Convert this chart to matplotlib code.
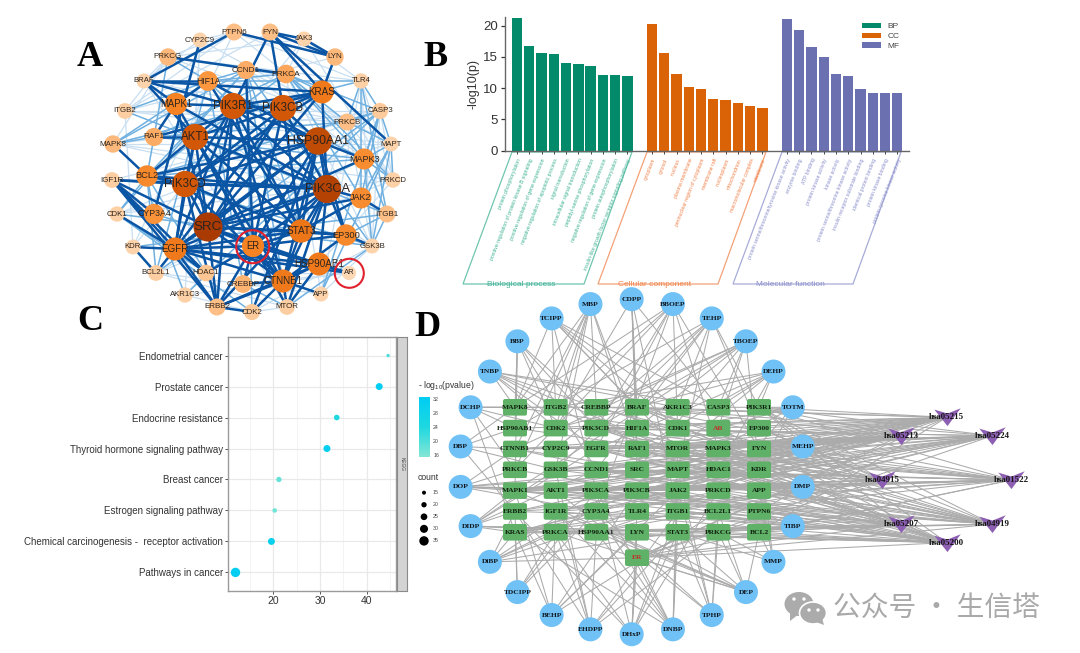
"""Four panel figure: PPI network, GO bars, KEGG dots, compound-target-pathway network."""
import numpy as np
import matplotlib
matplotlib.use("Agg")
import matplotlib.pyplot as plt
from matplotlib.cm import ScalarMappable
from matplotlib.collections import LineCollection
from matplotlib.colors import LinearSegmentedColormap, Normalize
from matplotlib.patches import Circle, Ellipse, FancyBboxPatch, Polygon

plt.rcParams["font.family"] = ["Liberation Sans", "DejaVu Sans"]
plt.rcParams["mathtext.default"] = "regular"

W, H = 1080, 653
SERIF = "Liberation Serif"

# ── Panel A: PPI network ─────────────────────────────────────────────────────
A_NAMES = ["PTPN6", "FYN", "JAK3", "LYN", "CYP2C9", "PRKCG", "CCND1", "PRKCA", "TLR4", "BRAF",
           "HIF1A", "KRAS", "MAPK1", "PIK3R1", "PIK3CB", "ITGB2", "CASP3", "PRKCB", "RAF1", "AKT1",
           "HSP90AA1", "MAPK8", "MAPT", "MAPK3", "IGF1R", "BCL2", "PIK3CD", "PIK3CA", "PRKCD", "JAK2",
           "CDK1", "CYP3A4", "ITGB1", "SRC", "STAT3", "EP300", "ER", "GSK3B", "KDR", "EGFR",
           "HSP90AB1", "AR", "BCL2L1", "HDAC1", "CREBBP", "CTNNB1", "APP", "AKR1C3", "ERBB2", "CDK2", "MTOR"]
A_X = [234, 270, 304, 335, 200, 168, 246, 286, 361, 144,
       208, 322, 176, 233, 283, 125, 380, 347, 154, 195,
       318, 113, 391, 364, 112, 147, 185, 327, 393, 361,
       117, 154, 387, 208, 301, 346, 253, 372, 133, 175,
       319, 349, 156, 206, 243, 283, 321, 185, 217, 252, 287]
A_Y = [32, 32, 39, 57, 40, 57, 70, 74, 81, 81,
       81, 92, 104, 106, 108, 111, 111, 122, 137, 137,
       141, 144, 144, 159, 180, 176, 184, 189, 180, 198,
       214, 214, 214, 227, 231, 235, 246, 246, 247, 249,
       264, 273, 273, 273, 284, 281, 294, 295, 307, 312, 307]
A_DEGREE = [10, 10, 5, 11, 5, 11, 13, 14, 6, 5,
            17, 25, 23, 33, 33, 7, 8, 10, 13, 33,
            36, 11, 5, 20, 7, 21, 33, 38, 6, 20,
            6, 18, 10, 40, 26, 21, 23, 5, 5, 25,
            25, 3, 7, 9, 12, 25, 5, 6, 10, 8, 7]

A_STRONG = {
    "SRC": "PIK3CA HSP90AA1 PIK3R1 PIK3CB AKT1 PIK3CD STAT3 CTNNB1 EGFR KRAS ER HSP90AB1 EP300 MAPK1 MAPK3 JAK2 ERBB2 IGF1R",
    "PIK3CA": "HSP90AA1 PIK3R1 PIK3CB AKT1 PIK3CD STAT3 CTNNB1 EGFR KRAS ER HSP90AB1 EP300 MAPK1 BCL2 JAK2 IGF1R ERBB2 MTOR",
    "HSP90AA1": "PIK3R1 PIK3CB AKT1 PIK3CD STAT3 CTNNB1 EGFR ER EP300 MAPK3 CDK2 BCL2 HIF1A",
    "PIK3R1": "PIK3CB AKT1 PIK3CD EGFR STAT3 KRAS CTNNB1 BRAF MAPK1 FYN ERBB2",
    "PIK3CB": "AKT1 PIK3CD EGFR KRAS ER STAT3 FYN",
    "AKT1": "PIK3CD EGFR MAPK1 ER BCL2 CTNNB1 STAT3 BRAF RAF1 MTOR",
    "PIK3CD": "EGFR BCL2 STAT3 ERBB2 KRAS CTNNB1 IGF1R",
    "EGFR": "ER ERBB2 CTNNB1 STAT3 HSP90AB1 IGF1R KDR HDAC1 CDK1 BCL2L1 AR",
    "STAT3": "ER EP300 CTNNB1 JAK2 HIF1A",
    "CTNNB1": "ER EP300 HSP90AB1 ERBB2 CDK2 CREBBP MTOR APP",
    "ER": "EP300 HSP90AB1 CREBBP HDAC1 ERBB2 CCND1 AR",
    "KRAS": "FYN LYN BRAF RAF1",
    "HSP90AB1": "AR ERBB2 MTOR",
    "MAPK1": "BRAF HIF1A RAF1",
    "FYN": "LYN JAK3 MAPT",
    "LYN": "JAK3 PTPN6",
    "IGF1R": "ERBB2 HDAC1 CYP3A4",
    "EP300": "GSK3B",
    "JAK2": "ITGB1",
    "BRAF": "HIF1A PTPN6",
    "ERBB2": "CDK2",
    "PRKCG": "PRKCA",
    "CYP2C9": "CYP3A4",
    "MAPK8": "BCL2",
    "KDR": "BCL2L1",
}
A_MID = {
    "PRKCA": "PRKCB PRKCD HIF1A CCND1 MAPK3 CASP3 KRAS JAK2 BCL2 RAF1",
    "MAPK3": "CASP3 MAPT PRKCB PRKCD GSK3B ITGB1 RAF1 BCL2 HIF1A",
    "CCND1": "HIF1A CDK1 CDK2 CTNNB1 GSK3B MAPK8 BCL2 STAT3",
    "HIF1A": "PIK3R1 PRKCG CREBBP TLR4 MAPK8 BCL2L1 ITGB2",
    "BCL2": "RAF1 CASP3 BCL2L1 CDK1 CYP3A4 HDAC1 GSK3B",
    "CASP3": "MAPT JAK2 PRKCB APP BCL2L1 TLR4 AKR1C3",
    "MAPT": "GSK3B PRKCB JAK2 PRKCD APP",
    "ITGB1": "TLR4 GSK3B EP300 KDR ITGB2",
    "RAF1": "MAPK8 PRKCB PRKCG",
    "TLR4": "MAPK8 PRKCB JAK2",
    "CYP3A4": "CYP2C9 AKR1C3 AR",
    "CDK1": "CDK2 HDAC1 GSK3B",
    "MTOR": "GSK3B CREBBP",
}
A_LIGHT = {
    "PRKCG": "PRKCB BRAF JAK3 TLR4 PTPN6 MAPK8 ITGB2",
    "PRKCD": "TLR4 JAK3 CASP3 HSP90AB1 CCND1 PRKCB",
    "PRKCB": "ITGB2 PTPN6 BRAF IGF1R CCND1 GSK3B",
    "CYP2C9": "PTPN6 BRAF AKR1C3 MAPT AKT1",
    "GSK3B": "TLR4 APP PRKCA CASP3 BRAF",
    "ITGB2": "FYN LYN KDR PTPN6 MAPT CASP3",
    "MAPK8": "MAPT PRKCD CASP3 JAK2",
    "AKR1C3": "AR HDAC1 CDK2",
    "CDK2": "MTOR GSK3B",
    "APP": "BCL2L1 TLR4 PRKCA",
    "JAK3": "TLR4 PRKCA KDR",
    "MTOR": "BRAF BCL2L1 PRKCB",
    "PTPN6": "KDR TLR4",
    "CDK1": "MAPT CASP3 PRKCD",
    "BCL2L1": "MAPT PRKCD",
    "AR": "HDAC1 CREBBP",
}

# ── Panel B: GO enrichment ───────────────────────────────────────────────────
BP_TERMS = ["protein phosphorylation", "positive regulation of protein kinase B signaling",
            "positive regulation of gene expression", "negative regulation of apoptotic process",
            "signal transduction", "intracellular signal transduction",
            "peptidyl-serine phosphorylation", "negative regulation of gene expression",
            "protein autophosphorylation", "insulin-like growth factor receptor signaling pathway"]
CC_TERMS = ["cytoplasm", "cytosol", "nucleus", "plasma membrane",
            "perinuclear region of cytoplasm", "membrane raft", "nucleoplasm",
            "mitochondrion", "macromolecular complex", "membrane"]
MF_TERMS = ["protein serine/threonine/tyrosine kinase activity", "enzyme binding", "ATP binding",
            "protein kinase activity", "kinase activity", "protein serine/threonine kinase activity",
            "insulin receptor substrate binding", "identical protein binding",
            "protein kinase binding", "protein tyrosine kinase activity"]
BP_VALUES = [21.3, 16.8, 15.7, 15.4, 14.0, 13.9, 13.6, 12.1, 12.1, 12.0]
CC_VALUES = [20.2, 15.6, 12.2, 10.2, 9.9, 8.2, 8.1, 7.7, 7.2, 6.9]
MF_VALUES = [21.1, 19.3, 16.6, 15.0, 12.3, 12.0, 9.9, 9.3, 9.3, 9.3]
GO_GROUPS = ["Biological process", "Cellular component", "Molecular function"]
GO_KEYS = ["BP", "CC", "MF"]

# ── Panel C: KEGG dots ───────────────────────────────────────────────────────
KEGG_TERMS = ["Pathways in cancer", "Chemical carcinogenesis -  receptor activation",
              "Estrogen signaling pathway", "Breast cancer",
              "Thyroid hormone signaling pathway", "Endocrine resistance",
              "Prostate cancer", "Endometrial cancer"]
KEGG_RATIO = [11.9, 19.6, 20.3, 21.2, 31.5, 33.6, 42.7, 44.6]
KEGG_COUNT = [35, 26, 17, 20, 26, 21, 26, 13]
KEGG_LOGP = [32, 30, 17, 18, 31, 24, 32, 20]
COUNT_LEVELS = [15, 20, 25, 30, 35]
LOGP_TICKS = [16, 20, 24, 28, 32]

# ── Panel D: compound / target / pathway network ─────────────────────────────
COMPOUNDS = ["CDPP", "BBOEP", "TEHP", "TBOEP", "DEHP", "TOTM", "MEHP", "DMP", "TIBP", "MMP", "DEP",
             "TPHP", "DNBP", "DHxP", "EHDPP", "BEHP", "TDCIPP", "DiBP", "DIDP", "DOP", "DBP",
             "DCHP", "TNBP", "BBP", "TCIPP", "MBP"]
TARGET_ROWS = [["MAPK8", "ITGB2", "CREBBP", "BRAF", "AKR1C3", "CASP3", "PIK3R1"],
               ["HSP90AB1", "CDK2", "PIK3CD", "HIF1A", "CDK1", "AR", "EP300"],
               ["CTNNB1", "CYP2C9", "EGFR", "RAF1", "MTOR", "MAPK3", "FYN"],
               ["PRKCB", "GSK3B", "CCND1", "SRC", "MAPT", "HDAC1", "KDR"],
               ["MAPK1", "AKT1", "PIK3CA", "PIK3CB", "JAK2", "PRKCD", "APP"],
               ["ERBB2", "IGF1R", "CYP3A4", "TLR4", "ITGB1", "BCL2L1", "PTPN6"],
               ["KRAS", "PRKCA", "HSP90AA1", "LYN", "STAT3", "PRKCG", "BCL2"]]
PATHWAYS = ["hsa05215", "hsa05224", "hsa01522", "hsa04919", "hsa05200", "hsa05207", "hsa04915", "hsa05213"]

COMPOUND_LINKS = {
    "CDPP": "CDK2 HIF1A RAF1 CASP3 BRAF ITGB1 SRC",
    "BBOEP": "MAPK8 EGFR PIK3CD CDK1 MAPK3 PRKCB FYN CYP3A4 ITGB2",
    "TEHP": "HSP90AB1 CYP2C9 CCND1 BRAF MAPT EP300 GSK3B PIK3R1 AKR1C3",
    "TBOEP": "CTNNB1 PIK3CD SRC CASP3 AR KDR HIF1A MAPK1 CREBBP",
    "DEHP": "CDK2 EGFR RAF1 PIK3R1 CASP3 MTOR HDAC1 ITGB2",
    "TOTM": "CASP3 AR CDK1 MAPK3 PRKCD KDR",
    "MEHP": "EP300 FYN KDR HDAC1 MAPT SRC CTNNB1 PRKCD",
    "DMP": "APP BCL2L1 PTPN6 JAK2 KDR PIK3CB AKT1",
    "TIBP": "BCL2 STAT3 PTPN6 ITGB1 PRKCG TLR4 CYP3A4",
    "MMP": "BCL2 PRKCG APP STAT3 FYN",
    "DEP": "BCL2 PRKCG STAT3 LYN BCL2L1 IGF1R PRKCA ER HSP90AA1 MAPK1",
    "TPHP": "BCL2L1 PRKCG STAT3 JAK2 MAPT CYP3A4 AKT1",
    "DNBP": "KRAS IGF1R HSP90AA1 STAT3 JAK2 MTOR PIK3CA ER CYP3A4",
    "DHxP": "PRKCA LYN ER TLR4 ITGB1 PIK3CA PRKCD STAT3 ERBB2",
    "EHDPP": "ERBB2 PRKCA AKT1 HSP90AA1 PRKCG STAT3 GSK3B ITGB1",
    "BEHP": "KRAS IGF1R PIK3CB LYN BCL2L1 MAPK1 JAK2",
    "TDCIPP": "KRAS PRKCA ERBB2 CYP3A4 PIK3CA",
    "DiBP": "KRAS ERBB2 PIK3CA TLR4 PRKCA ER MAPK3 STAT3",
    "DIDP": "KRAS ERBB2 MAPK1 HSP90AA1 GSK3B STAT3 PRKCG CCND1 EGFR",
    "DOP": "MAPK1 PRKCB CTNNB1 CYP3A4 SRC AKT1 PRKCD JAK2 HDAC1",
    "DBP": "CTNNB1 HSP90AB1 ERBB2 MAPK8 GSK3B",
    "DCHP": "MAPK8 HSP90AB1 CDK2 ITGB2 BRAF KRAS PRKCB",
    "TNBP": "MAPK8 CREBBP CDK2 CASP3 AKR1C3 PIK3CD EGFR HDAC1",
    "BBP": "MAPK8 HSP90AB1 CDK2 PIK3CD CCND1 RAF1 MAPK1",
    "TCIPP": "ITGB2 MAPK8 PIK3CA CASP3 BRAF CDK1 AKR1C3 MTOR",
    "MBP": "MAPK8 ITGB2 CDK2 CREBBP HIF1A RAF1 GSK3B PRKCB CTNNB1",
}
PATHWAY_LINKS = {
    "hsa05215": "PIK3R1 EP300 FYN AKT1 PIK3CA PIK3CB PIK3CD EGFR CTNNB1 MAPK1 MAPK3 RAF1 BRAF KRAS AR CREBBP HSP90AA1 HSP90AB1 MTOR GSK3B BCL2 CCND1 ER IGF1R ERBB2",
    "hsa05224": "PIK3R1 AKT1 PIK3CA PIK3CB PIK3CD EGFR MAPK1 MAPK3 RAF1 BRAF KRAS CTNNB1 MTOR GSK3B CCND1 ER IGF1R ERBB2 HSP90AA1 APP CDK2 JAK2",
    "hsa01522": "PIK3R1 AKT1 PIK3CA PIK3CB PIK3CD EGFR MAPK1 MAPK3 RAF1 BRAF KRAS MTOR CCND1 ER IGF1R ERBB2 BCL2 SRC PRKCD GSK3B MAPK8",
    "hsa04919": "PIK3R1 AKT1 PIK3CA PIK3CB PIK3CD EGFR MAPK1 MAPK3 RAF1 BRAF KRAS MTOR CCND1 CTNNB1 GSK3B HDAC1 SRC STAT3 PRKCA ER EP300 CREBBP",
    "hsa05200": "PIK3R1 AKT1 PIK3CA PIK3CB PIK3CD EGFR MAPK1 MAPK3 RAF1 BRAF KRAS STAT3 BCL2 BCL2L1 ITGB1 JAK2 PRKCG PRKCA HSP90AA1 CTNNB1 IGF1R HIF1A MTOR AR ER PRKCB",
    "hsa05207": "PIK3R1 AKT1 PIK3CA PIK3CB PIK3CD EGFR MAPK1 MAPK3 RAF1 BRAF KRAS STAT3 BCL2 ITGB1 PTPN6 ERBB2 ER HDAC1 CCND1",
    "hsa04915": "PIK3R1 AKT1 PIK3CA PIK3CB PIK3CD EGFR MAPK1 MAPK3 RAF1 BRAF KRAS SRC HSP90AA1 HSP90AB1 ER CREBBP EP300 GSK3B",
    "hsa05213": "PIK3R1 AKT1 PIK3CA PIK3CB PIK3CD EGFR MAPK1 MAPK3 RAF1 BRAF KRAS CTNNB1 MTOR GSK3B ER CCND1 IGF1R",
}


def px_axes(fig, left, top, right, bottom, **kw):
    return fig.add_axes([left / W, 1 - bottom / H, (right - left) / W, (bottom - top) / H], **kw)


fig = plt.figure(figsize=(W / 100, H / 100), dpi=100, facecolor="white")

# one pixel-space layer for the networks and free annotations
net = px_axes(fig, 0, 0, W, H)
net.set_xlim(0, W)
net.set_ylim(H, 0)
net.axis("off")

for letter, x, y in [("A", 90, 58), ("B", 435, 57), ("C", 90, 322), ("D", 427, 327)]:
    net.text(x, y, letter, family=SERIF, weight="bold", fontsize=26, ha="center", va="center", color="black")

# ── A ──
apos = {n: (x, y) for n, x, y in zip(A_NAMES, A_X, A_Y)}
for links, color, lw, z in [(A_LIGHT, "#C8DFF2", 0.9, 1.0), (A_MID, "#6FB0E0", 1.1, 1.1), (A_STRONG, "#0B55A5", 1.8, 1.2)]:
    segs = [(apos[a], apos[b]) for a, others in links.items() for b in others.split()]
    net.add_collection(LineCollection(segs, colors=color, linewidths=lw, zorder=z))
node_cmap = LinearSegmentedColormap.from_list("node", ["#FDE0C5", "#FDCB9B", "#FD9A45", "#F47F1E", "#D85C08", "#A93A02"])
for name, x, y, deg in zip(A_NAMES, A_X, A_Y, A_DEGREE):
    t = deg / 40
    r = 6.5 + 8 * t
    net.add_patch(Circle((x, y), r, fc=node_cmap(t), ec="none", zorder=2))
    net.text(x, y, name, fontsize=5.5 + 4.1 * t ** 2, ha="center", va="center", color="#2e241c", zorder=3)
for x, y, r in [(252.7, 246.7, 16.5), (349.3, 273.3, 14.5)]:
    net.add_patch(Circle((x, y), r, fc="none", ec="#E1202E", lw=1.5, zorder=4))

# ── B ──
axb = px_axes(fig, 505, 17.3, 909, 150.7, facecolor="none")
terms = BP_TERMS + CC_TERMS + MF_TERMS
offsets = [0, 11, 22]
colors = ["#028A6B", "#DA6207", "#6A70B0"]
label_colors = ["#3FB295", "#F0824A", "#8A8FCB"]
all_x = []
for off, vals, col, lab in zip(offsets, [BP_VALUES, CC_VALUES, MF_VALUES], colors, GO_KEYS):
    xs = np.arange(len(vals)) + off
    axb.bar(xs, vals, width=0.84, color=col, label=lab)
    all_x.extend(xs)
axb.set_xlim(-0.98, 31.95)
axb.set_ylim(0, 21.35)
axb.set_xticks(all_x)
axb.set_xticklabels(terms, rotation=68.5, ha="right", va="top", rotation_mode="anchor", fontsize=3.7)
for i, tick in enumerate(axb.get_xticklabels()):
    tick.set_color(label_colors[i // 10])
axb.set_yticks([0, 5, 10, 15, 20])
axb.tick_params(axis="y", labelsize=9.5, colors="#333333", length=3, width=0.9, pad=2)
axb.tick_params(axis="x", length=2, width=0.7, color="#444444", pad=3)
axb.set_ylabel("-log10(p)", fontsize=9, color="#333333", labelpad=3)
for side in ("top", "right"):
    axb.spines[side].set_visible(False)
for side in ("left", "bottom"):
    axb.spines[side].set_color("#666666")
    axb.spines[side].set_linewidth(1.0)
axb.legend(loc="upper right", bbox_to_anchor=(0.985, 0.985), frameon=False, fontsize=6, labelcolor="#444444",
           handlelength=2.3, handleheight=0.6, labelspacing=0.28, handletextpad=0.8, borderaxespad=0)

for (tl, tr, br, bl), col, name, tx in zip(
        [((512, 152), (632, 152), (584, 284), (463, 284)),
         ((647, 152), (766, 152), (718, 284), (598, 284)),
         ((782, 152), (901, 152), (853, 284), (733, 284))],
        label_colors, GO_GROUPS, [521, 655, 790]):
    net.add_patch(Polygon([tl, tr, br, bl], closed=True, fc="none", ec=col, lw=0.9, alpha=0.75))
    net.text(tx, 284.5, name, fontsize=6, color=col, ha="center", va="center", zorder=1.5)

# ── C ──
axc = px_axes(fig, 227.7, 337.3, 396, 590.7, facecolor="white", zorder=2)
logp_cmap = LinearSegmentedColormap.from_list("logp", ["#84E6D5", "#1ED8E0", "#00CDF3"])
logp_norm = Normalize(15.3, 32.5)


def count_size(c):
    # scatter s from a dot radius in pixels
    r_px = 2 + (np.asarray(c, dtype=float) - 15) * 0.135
    return (2 * r_px * 0.72) ** 2


ys = np.arange(1, len(KEGG_TERMS) + 1)
axc.scatter(KEGG_RATIO, ys, s=count_size(KEGG_COUNT), c=KEGG_LOGP, cmap=logp_cmap, norm=logp_norm, zorder=3, lw=0)
axc.set_xlim(10.23, 46.3)
axc.set_ylim(0.41, 8.59)
axc.set_yticks(ys)
axc.set_yticklabels(KEGG_TERMS, fontsize=7, color="#333333")
axc.set_xticks([20, 30, 40])
axc.set_xticks([15, 25, 35, 45], minor=True)
axc.tick_params(axis="x", which="major", labelsize=7.5, labelcolor="#333333", length=2, width=0.7, color="#555555", pad=1.5)
axc.tick_params(axis="x", which="minor", length=0)
axc.tick_params(axis="y", length=2, width=0.7, color="#555555", pad=1.5)
axc.grid(which="major", color="#E9E9E9", lw=0.9)
axc.grid(which="minor", axis="x", color="#F1F1F1", lw=0.6)
axc.set_axisbelow(True)
for sp in axc.spines.values():
    sp.set_color("#9A9A9A")
    sp.set_linewidth(1.0)

strip = px_axes(fig, 396.7, 337.3, 407.3, 590.7, facecolor="#D3D3D3", xticks=[], yticks=[], zorder=2)
for sp in strip.spines.values():
    sp.set_color("#8A8A8A")
    sp.set_linewidth(0.8)
strip.text(0.5, 0.5, "KEGG", rotation=-90, fontsize=3.5, ha="center", va="center", color="#444444", transform=strip.transAxes)

net.text(418, 386, "- log$_{10}$(pvalue)", fontsize=6.2, color="#333333", ha="left", va="center", zorder=5)
cax = px_axes(fig, 418.7, 397, 429.7, 457, zorder=2)
cb = fig.colorbar(ScalarMappable(norm=logp_norm, cmap=logp_cmap), cax=cax)
cb.set_ticks(LOGP_TICKS)
cb.ax.tick_params(length=0, labelsize=3.8, labelcolor="#444444", pad=2.5)
cb.outline.set_visible(False)
net.text(418, 477, "count", fontsize=6.2, color="#333333", ha="left", va="center", zorder=5)
legend_y = 492.7 + 12.05 * np.arange(len(COUNT_LEVELS))
net.scatter([424] * len(COUNT_LEVELS), legend_y, s=count_size(COUNT_LEVELS), c="black", lw=0, zorder=5)
for c, y in zip(COUNT_LEVELS, legend_y):
    net.text(433, y, str(c), fontsize=3.8, color="#444444", ha="left", va="center", zorder=5)

# ── D ──
ang = np.arange(len(COMPOUNDS)) * 2 * np.pi / len(COMPOUNDS)
dpos = {n: (631.7 + 172.3 * np.sin(a), 466.7 - 167.5 * np.cos(a)) for n, a in zip(COMPOUNDS, ang)}
col_x = 515 + 40.67 * np.arange(7)
row_y = 407.3 + 20.83 * np.arange(7)
tpos = {n: (col_x[c], row_y[r]) for r, row in enumerate(TARGET_ROWS) for c, n in enumerate(row)}
tpos["ER"] = (637, 557.7)
ang = np.arange(len(PATHWAYS)) * 2 * np.pi / len(PATHWAYS)
ppos = {n: (946.7 + 64.7 * np.sin(a), 480 - 62.6 * np.cos(a)) for n, a in zip(PATHWAYS, ang)}

segs = [(dpos[c], tpos[t]) for c, ts in COMPOUND_LINKS.items() for t in ts.split()]
segs += [(ppos[p], tpos[t]) for p, ts in PATHWAY_LINKS.items() for t in ts.split()]
net.add_collection(LineCollection(segs, colors="#ABABAB", linewidths=0.75, zorder=1.3))

for n, (x, y) in dpos.items():
    net.add_patch(Circle((x, y), 12, fc="#70C1F5", ec="none", zorder=2))
    net.text(x, y, n, family=SERIF, weight="bold", fontsize=5.4, ha="center", va="center", color="#101820", zorder=3)
for n, (x, y) in tpos.items():
    net.add_patch(FancyBboxPatch((x - 11, y - 7.3), 22, 14.6, boxstyle="round,pad=1,rounding_size=2",
                                 fc="#5FB168", ec="none", zorder=2))
    red = n in ("AR", "ER")
    net.text(x, y, n, family=SERIF, weight="bold", fontsize=5.4, ha="center", va="center",
             color="#C0302A" if red else "#10200F", zorder=3)
v_marker = [(-1, 0.6), (0, 0.3), (1, 0.7), (0, -0.65), (-1, 0.6)]
for n, (x, y) in ppos.items():
    net.plot([x], [y], marker=v_marker, ms=19, mfc="#8D5FB2", mec="none", ls="none", zorder=2)
    net.text(x, y, n, family=SERIF, weight="bold", fontsize=6.4, ha="center", va="center", color="#151515", zorder=3)

# ── watermark ──
GREY = "#ABABAB"
net.add_patch(Ellipse((799, 604), 29, 24, fc=GREY, ec="none", zorder=2))
net.add_patch(Polygon([(790, 612), (790, 621), (799, 614)], fc=GREY, ec="none", zorder=2))
net.add_patch(Ellipse((813, 613), 27, 22, fc=GREY, ec="white", lw=1.2, zorder=2.1))
net.add_patch(Polygon([(816, 622), (824, 625), (822, 618)], fc=GREY, ec="none", zorder=2.1))
for x, y, z in [(794, 599, 2.05), (804, 599, 2.05), (809, 610, 2.2), (818, 610, 2.2)]:
    net.add_patch(Circle((x, y), 1.7, fc="white", ec="none", zorder=z))
net.text(833, 608, "公众号 · 生信塔", family=["Noto Sans CJK SC", "DejaVu Sans"], fontsize=20,
         color="#A9A9A9", ha="left", va="center", zorder=2)

fig.savefig("out.png", dpi=100, facecolor="white")
